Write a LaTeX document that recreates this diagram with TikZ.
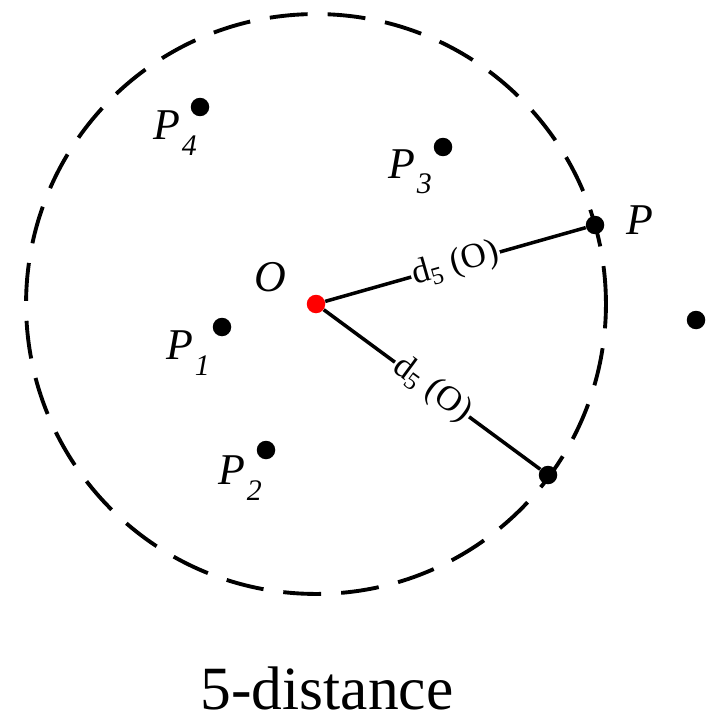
\documentclass[tikz,border=0pt]{standalone}
\usepackage{fontspec}
\setmainfont{Liberation Serif}
\usepackage{tikz}

\newcommand{\psub}[1]{P\kern1pt\raisebox{-0.35em}{\fontsize{17}{17}\selectfont #1}}

\begin{document}
\begin{tikzpicture}[x=0.02cm,y=-0.02cm,
    dot/.style={circle,fill=black,inner sep=0pt,minimum size=0.37cm},
    lbl/.style={font=\fontsize{25}{25}\selectfont\itshape},
    dlbl/.style={font=\fontsize{20}{20}\selectfont,fill=white,inner sep=1pt,sloped}]
    \useasboundingbox (0,0) rectangle (707,723);
    \draw[line width=2.2pt,dash pattern=on 0.76cm off 0.4cm] (316,304) circle [radius=5.8cm];
    % points
    \node[dot,fill=red] (o) at (316,304) {};
    \node[dot] (p1) at (222,327) {};
    \node[dot] (p2) at (266,450) {};
    \node[dot] (p3) at (443,147) {};
    \node[dot] (p4) at (200,107) {};
    \node[dot] (p) at (595,225) {};
    \node[dot] (q) at (548,475) {};
    \node[dot] (r) at (696,320) {};
    % labels
    \node[lbl] (ol) at (270,277) {O};
    \node[lbl] (p1l) at (188,353) {\psub{1}};
    \node[lbl] (p2l) at (240,478) {\psub{2}};
    \node[lbl] (p3l) at (410,172) {\psub{3}};
    \node[lbl] (p4l) at (175,133) {\psub{4}};
    \node[lbl] (pl) at (640,220) {P};
    % radii
    \draw[line width=2pt] (o) -- node[dlbl] {d\textsubscript{5} (O)} (p);
    \draw[line width=2pt] (o) -- node[dlbl] {d\textsubscript{5} (O)} (q);
    \node[font=\fontsize{35}{35}\selectfont] (title) at (327,688) {5-distance};
\end{tikzpicture}
\end{document}
